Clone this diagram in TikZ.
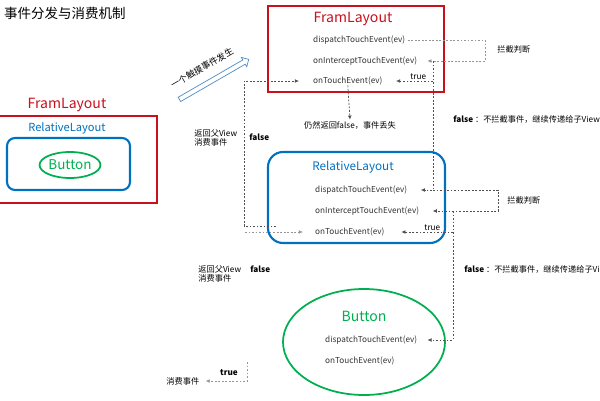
\documentclass[tikz,border=0pt]{standalone}
\usepackage{fontspec}
\setmainfont{Noto Sans CJK SC}
\usetikzlibrary{arrows.meta,shapes.geometric,shapes.arrows}
\definecolor{fred}{RGB}{200,16,30}
\definecolor{fblue}{RGB}{0,112,192}
\definecolor{fgreen}{RGB}{0,176,80}
\definecolor{arrblue}{RGB}{80,140,200}
\definecolor{dgray}{RGB}{80,80,80}
\definecolor{lgray}{RGB}{150,150,150}
\begin{document}
\begin{tikzpicture}[x=0.03cm,y=-0.03cm,
  redbox/.style={draw=fred, line width=1.6pt, inner sep=0pt},
  bluebox/.style={draw=fblue, line width=1.8pt, inner sep=0pt},
  greenell/.style={ellipse, draw=fgreen, line width=1.5pt, inner sep=0pt},
  redtitle/.style={text=fred, font=\fontsize{12}{13}\selectfont, inner sep=0pt},
  bluetitle/.style={text=fblue, font=\fontsize{9.5}{10}\selectfont, inner sep=0pt},
  greentitle/.style={text=fgreen, font=\fontsize{12}{13}\selectfont, inner sep=0pt},
  meth/.style={anchor=west, font=\fontsize{7}{8}\selectfont, inner sep=0pt, text=black!80},
  lbl/.style={font=\fontsize{7}{8.5}\selectfont, inner sep=1pt},
  ddash/.style={draw=dgray, line width=0.6pt, dash pattern=on 1.6pt off 1.4pt},
  ldash/.style={draw=lgray, line width=0.6pt, dash pattern=on 1.6pt off 1.4pt},
  arr/.style={-{Latex[length=3.5pt,width=3.2pt]}}]
\useasboundingbox (0,0) rectangle (600,400);

% title
\node[anchor=west, font=\fontsize{11.5}{12}\selectfont, inner sep=0pt] (title) at (4,13) {事件分发与消费机制};

% left overview
\node[redbox, minimum width=4.74cm, minimum height=2.61cm] (lf) at (78,159.5) {};
\node[redtitle] (lft) at (67,105) {FramLayout};
\node[bluebox, rounded corners=0.24cm, minimum width=3.69cm, minimum height=1.56cm] (lr) at (68.5,164) {};
\node[bluetitle] (lrt) at (67,128) {RelativeLayout};
\node[greenell, minimum width=1.8cm, minimum height=0.78cm, text=fgreen, font=\fontsize{11.5}{12}\selectfont] (lb) at (70,165) {Button};

% top FramLayout
\node[redbox, minimum width=5.28cm, minimum height=2.58cm] (tf) at (356,49) {};
\node[redtitle] (tft) at (353,19) {FramLayout};
\node[meth] (d1) at (313,40) {dispatchTouchEvent(ev)};
\node[meth] (i1) at (313,61) {onInterceptTouchEvent(ev)};
\node[meth] (t1) at (313,81) {onTouchEvent(ev)};

% RelativeLayout
\node[bluebox, rounded corners=0.45cm, minimum width=5.31cm, minimum height=2.73cm] (bf) at (356.5,197.5) {};
\node[bluetitle, font=\fontsize{10}{11}\selectfont] (bft) at (353,167) {RelativeLayout};
\node[meth] (d2) at (315,190) {dispatchTouchEvent(ev)};
\node[meth] (i2) at (315,211) {onInterceptTouchEvent(ev)};
\node[meth] (t2) at (315,232) {onTouchEvent(ev)};

% Button
\node[greenell, minimum width=4.86cm, minimum height=3.18cm] (be) at (364,342) {};
\node[greentitle] (bet) at (364,316) {Button};
\node[meth] (d3) at (325,340) {dispatchTouchEvent(ev)};
\node[meth] (t3) at (325,361) {onTouchEvent(ev)};

% event arrow
\node[single arrow, draw=arrblue, fill=white, line width=0.6pt, minimum height=2.4cm,
      single arrow head extend=2.5pt, inner sep=1.8pt, rotate=30] (ev) at (213,80) {};
\node[lbl, rotate=30, inner sep=0pt, font=\fontsize{7.5}{8}\selectfont] (evt) at (202,68) {一个触摸事件发生};

% labels
\node[lbl, anchor=west] (ic1) at (496,49) {拦截判断};
\node[lbl, anchor=west] (ic2) at (506,200) {拦截判断};
\node[lbl, anchor=west] (fl1) at (452,119) {\textbf{false} ：不拦截事件，继续传递给子View};
\node[lbl, anchor=west] (fl2) at (463,269) {\textbf{false} ：不拦截事件，继续传递给子View};
\node[lbl] (lost) at (350,125) {仍然返回false，事件丢失};
\node[lbl, anchor=west, align=left, font=\fontsize{7}{8}\selectfont] (ret1) at (193,138) {返回父View\\消费事件};
\node[lbl, anchor=west, font=\fontsize{7}{8}\selectfont\bfseries] (f1) at (248,137) {false};
\node[lbl, anchor=west, align=left, font=\fontsize{7}{8}\selectfont] (ret2) at (197,274) {返回父View\\消费事件};
\node[lbl, anchor=west, font=\fontsize{7}{8}\selectfont\bfseries] (f2) at (249,269) {false};
\node[lbl, anchor=west] (cons) at (165,381) {消费事件};
\node[lbl, font=\fontsize{7}{8}\selectfont\bfseries] (tr3) at (229,373) {true};

% helper x positions
\coordinate (xa) at (433,0);
\coordinate (xb) at (485,0);
\coordinate (xc) at (453,0);
\coordinate (xd) at (498,0);
\coordinate (xe) at (244,0);
\coordinate (rs) at (276,226);
\coordinate (ls) at (245,232);
\coordinate (bs) at (247,362);

% connectors FramLayout
\draw[ldash, arr] ([xshift=2pt]d1.east) -- (d1.east -| xb) |- ([xshift=0.3cm]i1.east);
\draw[ddash, arr] (i1.east -| xa) -- (d2.east -| xa) -- ([xshift=0.4cm]d2.east);
\draw[ddash, arr] (t1.east -| xa) -- node[lbl, above, pos=0.4, inner sep=0.5pt] {true} ([xshift=0.4cm]t1.east);
\draw[ddash, arr] (t1.south) -- (lost.north);

% connectors RelativeLayout
\draw[ddash, arr] (d2.east -| xa) -- (d2.east -| xd) |- ([xshift=0.4cm]i2.east);
\draw[ddash, arr] (i2.east -| xc) -- (d3.east -| xc) -- ([xshift=0.3cm]d3.east);
\draw[ddash, arr] (t2.east -| xc) -- node[lbl, above, pos=0.4, inner sep=0.5pt] {true} ([xshift=0.5cm]t2.east);

% return to parent
\draw[ddash, arr] (rs) -- (rs -| xe) -- (t1.west -| xe) -- ([xshift=-0.42cm]t1.west);
\draw[ldash, arr] (ls) -- ([xshift=-0.36cm]t2.west);

% consume
\draw[ldash, arr] (bs) -- (bs |- cons.east) -- ([xshift=0.15cm]cons.east);
\end{tikzpicture}
\end{document}
